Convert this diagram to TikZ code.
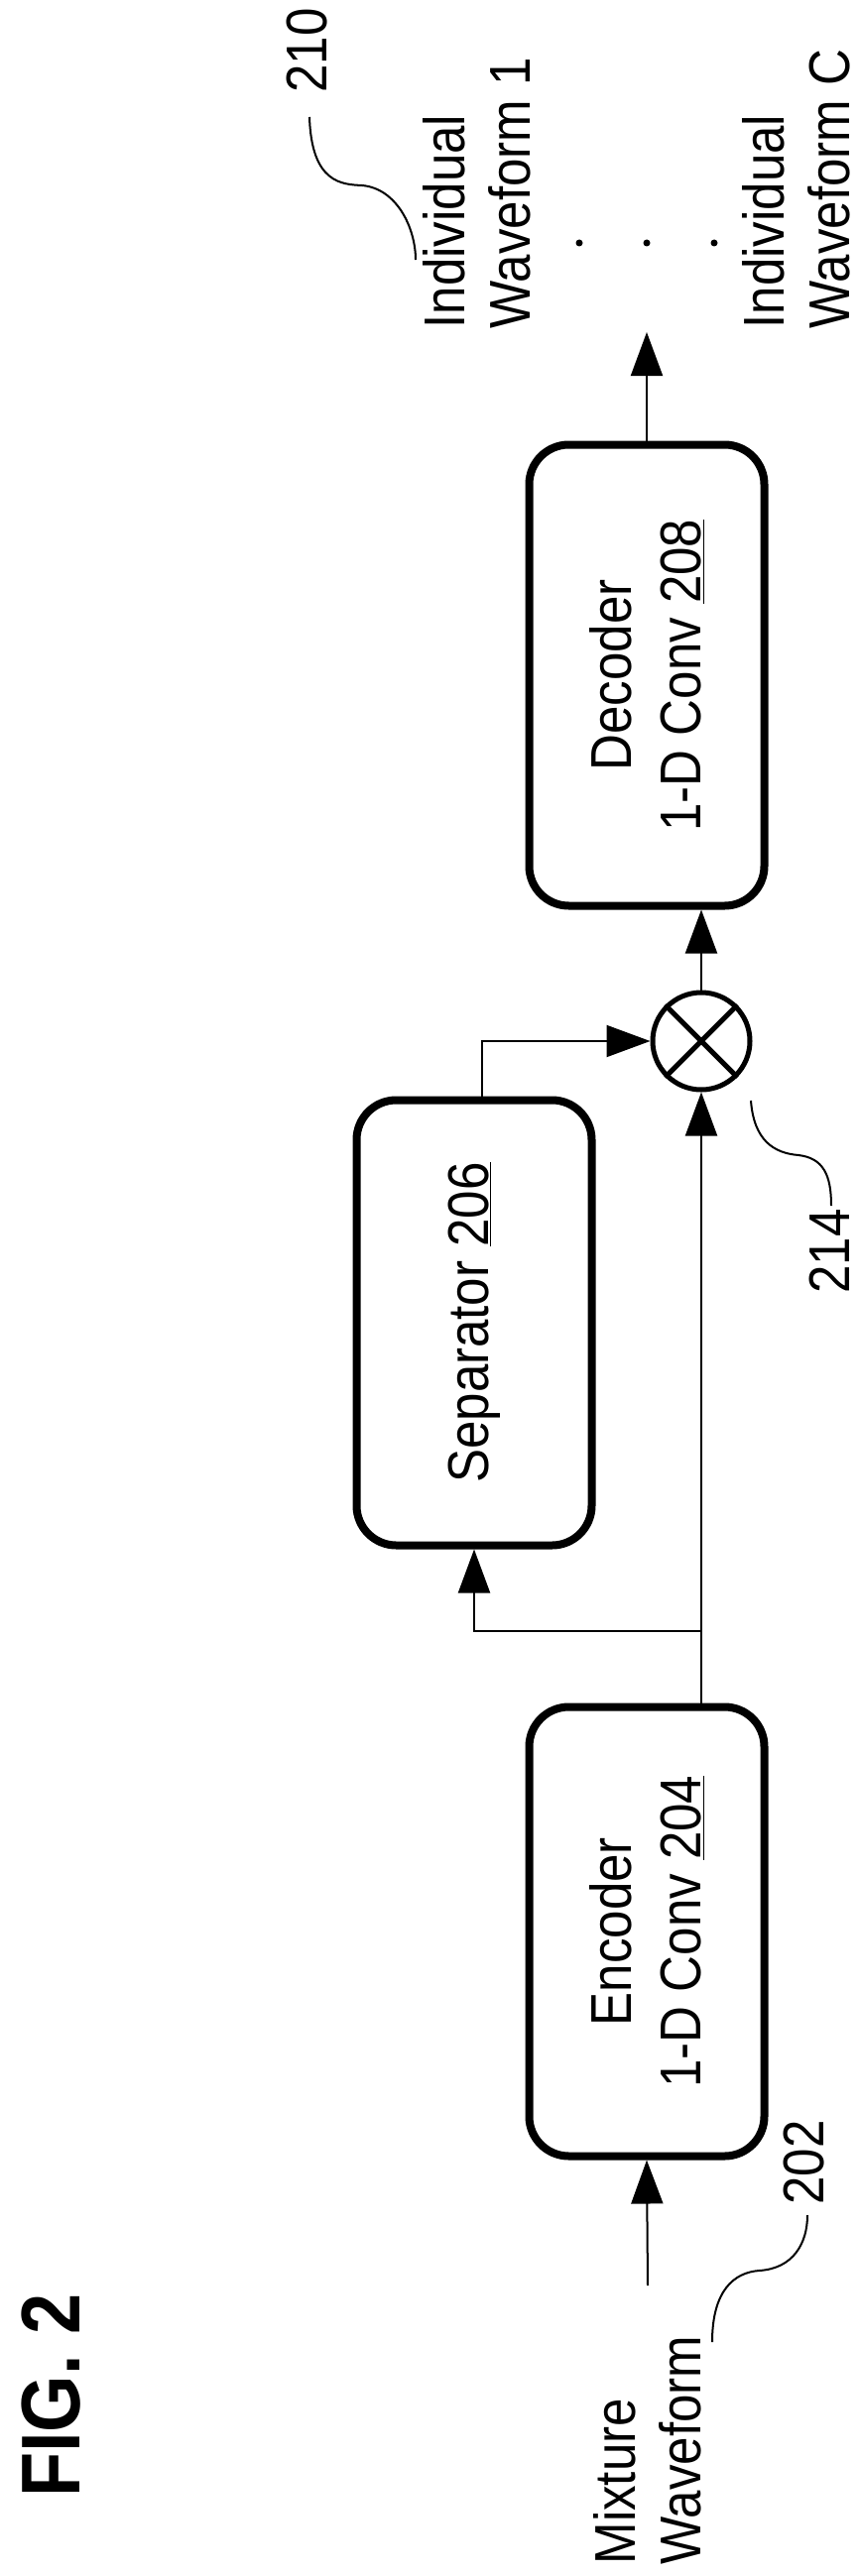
\documentclass[tikz,border=0pt]{standalone}
\usepackage{fontspec}
\setmainfont{Liberation Sans}[FakeStretch=0.88]
\usetikzlibrary{arrows.meta}
\begin{document}
\begin{tikzpicture}[x=1pt,y=-1pt,
    blk/.style={draw,line width=8pt,rounded corners=40pt,minimum width=237pt},
    lbl/.style={rotate=90,align=center,font=\fontsize{58}{70}\selectfont},
    txt/.style={rotate=90,align=left,anchor=west,font=\fontsize{58}{66}\selectfont},
    con/.style={line width=2pt,-{Triangle[length=44pt,width=32pt]}},
    lead/.style={line width=2pt}]
    \useasboundingbox (0,0) rectangle (866,2598);
    % blocks
    \node[blk,minimum height=465pt] (dec) at (652,681) {};
    \node[lbl] (declbl) at (dec) {Decoder\\1-D Conv \underline{208}};
    \node[blk,minimum height=449pt] (sep) at (478,1334) {};
    \node[lbl] (seplbl) at (sep) {Separator \underline{206}};
    \node[blk,minimum height=453pt] (enc) at (652,1948) {};
    \node[lbl] (enclbl) at (enc) {Encoder\\1-D Conv \underline{204}};
    % mixer
    \node[draw,circle,line width=5pt,minimum size=98pt,inner sep=0pt] (mix) at (707,1050) {};
    \draw[line width=5pt] (mix.45) -- (mix.225) (mix.135) -- (mix.-45);
    % texts
    \node[txt] (out1) at (481,335) {Individual\\Waveform 1};
    \node[txt] (outc) at (803,335) {Individual\\Waveform C};
    \foreach \x in {584,652,720}
        \fill (\x,245) circle (3.5pt);
    \node[txt] (mixt) at (653,2590) {Mixture\\Waveform};
    \node[lbl] (r210) at (310,51) {210};
    \node[lbl] (r214) at (836,1262) {214};
    \node[lbl] (r202) at (811,2181) {202};
    \node[lbl,font=\fontsize{84}{84}\selectfont\bfseries] (fig) at (52,2416) {FIG. 2};
    % connectors
    \coordinate (out) at (652,335);
    \coordinate (in) at (653,2305);
    \coordinate (br) at (707,1645);
    \draw[con] (in) -- (enc.south);
    \draw[line width=2pt] (enc.north -| mix) -- (br);
    \draw[con] (br) -- (mix.south);
    \draw[con] (br) -| (sep.south);
    \draw[con] ([xshift=8pt]sep.north) |- (mix.west);
    \draw[con] (mix.north) -- (dec.south -| mix);
    \draw[con] (dec.north) -- (out);
    % leaders
    \draw[lead] (312,118) .. controls (314,185) and (345,186) .. (365,187)
        .. controls (400,190) and (419,230) .. (419,262);
    \draw[lead] (757,1110) .. controls (760,1150) and (780,1163) .. (805,1165)
        .. controls (830,1168) and (838,1185) .. (838,1216);
    \draw[lead] (718,2362) .. controls (718,2310) and (740,2292) .. (765,2290)
        .. controls (800,2288) and (814,2262) .. (814,2234);
\end{tikzpicture}
\end{document}
